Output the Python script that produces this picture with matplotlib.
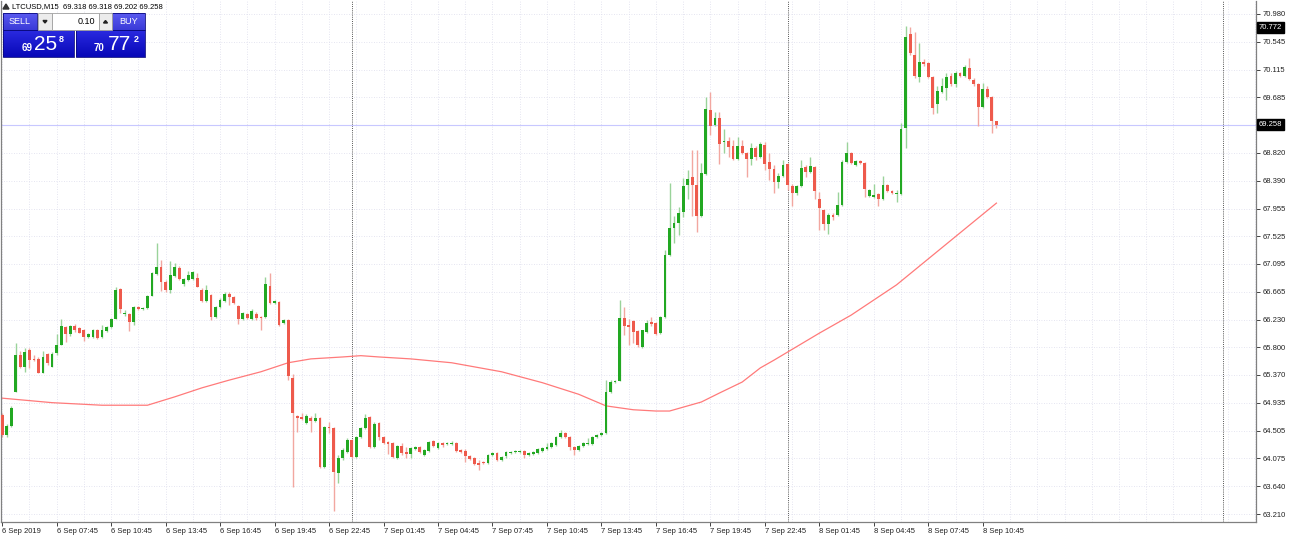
import numpy as np
import matplotlib
matplotlib.use('Agg')
import matplotlib.pyplot as plt
from matplotlib.patches import Rectangle, Polygon
from matplotlib.colors import LinearSegmentedColormap

plt.rcParams['font.family'] = ['Liberation Sans', 'DejaVu Sans']

# LTCUSD M15, first bar 6 Sep 2019 04:45
opens = [64.75, 64.44, 64.58, 65.11, 65.68, 65.49, 65.76, 65.62, 65.62, 65.40,
         65.70, 65.49, 65.71, 65.84, 66.12, 66.01, 66.13, 66.10, 66.07, 65.96,
         65.96, 66.07, 65.96, 66.05, 66.12, 66.24, 66.71, 66.32, 66.32, 66.19,
         66.43, 66.40, 66.41, 66.60, 66.94, 67.05, 66.82, 66.69, 66.91, 67.03,
         66.79, 66.85, 66.86, 66.88, 66.69, 66.52, 66.61, 66.27, 66.43, 66.52,
         66.63, 66.58, 66.44, 66.24, 66.32, 66.24, 66.32, 66.27, 66.27, 66.75,
         66.49, 66.50, 66.18, 66.23, 65.32, 64.73, 64.72, 64.62, 64.70, 64.66,
         64.70, 63.94, 64.56, 64.55, 63.85, 64.08, 64.18, 64.36, 64.10, 64.41,
         64.55, 64.72, 64.25, 64.62, 64.41, 64.33, 64.31, 64.08, 64.27, 64.18,
         64.14, 64.22, 64.25, 64.13, 64.19, 64.35, 64.24, 64.31, 64.30, 64.30,
         64.31, 64.21, 64.19, 64.11, 64.08, 64.00, 64.02, 64.00, 64.13, 64.16,
         64.05, 64.11, 64.16, 64.17, 64.17, 64.19, 64.13, 64.14, 64.16, 64.19,
         64.22, 64.25, 64.28, 64.41, 64.47, 64.41, 64.25, 64.21, 64.27, 64.30,
         64.30, 64.41, 64.44, 64.47, 65.11, 65.26, 65.28, 66.26, 66.15, 66.21,
         66.05, 65.81, 66.04, 66.19, 66.18, 66.02, 66.27, 67.24, 67.65, 67.73,
         67.90, 68.32, 68.45, 68.32, 67.84, 68.49, 69.49, 69.26, 69.36, 68.99,
         69.01, 68.93, 68.73, 68.93, 68.82, 68.73, 68.90, 68.76, 68.95, 68.68,
         68.57, 68.37, 68.46, 68.65, 68.31, 68.20, 68.31, 68.60, 68.53, 68.60,
         68.11, 67.93, 67.72, 67.86, 67.86, 68.01, 68.68, 68.82, 68.63, 68.70,
         68.67, 68.15, 68.14, 68.18, 68.11, 68.32, 68.23, 68.18, 68.18, 69.21,
         70.67, 70.34, 70.00, 70.23, 70.22, 70.00, 69.58, 69.77, 69.83, 70.02,
         69.89, 70.06, 70.02, 70.14, 69.95, 69.89, 69.53, 69.81, 69.69, 69.318]
highs = [64.78, 64.61, 64.89, 65.87, 65.74, 65.79, 65.79, 65.68, 65.65, 65.74,
         65.71, 65.73, 66.01, 66.24, 66.13, 66.15, 66.16, 66.12, 66.09, 66.02,
         66.09, 66.09, 66.15, 66.13, 66.26, 66.74, 66.72, 66.38, 66.34, 66.44,
         66.44, 66.43, 66.61, 66.97, 67.42, 67.16, 66.85, 67.14, 67.11, 67.06,
         66.88, 66.99, 66.99, 66.96, 66.72, 66.77, 66.63, 66.44, 66.57, 66.66,
         66.66, 66.60, 66.46, 66.35, 66.34, 66.40, 66.35, 66.29, 66.89, 66.96,
         66.54, 66.52, 66.24, 66.24, 65.39, 64.75, 64.78, 64.76, 64.73, 64.78,
         64.72, 64.58, 64.64, 64.56, 64.13, 64.24, 64.39, 64.38, 64.42, 64.56,
         64.76, 64.73, 64.64, 64.64, 64.42, 64.35, 64.33, 64.28, 64.31, 64.25,
         64.25, 64.27, 64.27, 64.22, 64.35, 64.36, 64.33, 64.33, 64.33, 64.35,
         64.33, 64.22, 64.22, 64.13, 64.10, 64.05, 64.03, 64.14, 64.17, 64.17,
         64.11, 64.19, 64.19, 64.21, 64.21, 64.21, 64.17, 64.19, 64.24, 64.25,
         64.31, 64.33, 64.42, 64.52, 64.49, 64.42, 64.27, 64.28, 64.33, 64.39,
         64.42, 64.45, 64.49, 65.29, 65.29, 65.29, 66.54, 66.43, 66.24, 66.22,
         66.07, 66.07, 66.23, 66.27, 66.19, 66.29, 67.31, 68.35, 67.84, 67.98,
         68.43, 68.56, 68.87, 68.87, 68.67, 69.69, 69.77, 69.46, 69.46, 69.19,
         69.07, 69.02, 69.07, 69.02, 68.84, 68.98, 68.93, 68.99, 68.99, 68.82,
         68.63, 68.51, 68.71, 68.66, 68.34, 68.32, 68.71, 68.63, 68.76, 68.62,
         68.21, 67.95, 67.89, 67.89, 68.21, 68.71, 68.99, 68.84, 68.71, 68.71,
         68.68, 68.26, 68.34, 68.20, 68.46, 68.34, 68.25, 68.25, 69.29, 70.79,
         70.78, 70.70, 70.53, 70.28, 70.23, 70.02, 69.86, 69.99, 70.06, 70.06,
         70.09, 70.08, 70.19, 70.30, 69.99, 69.91, 69.91, 69.86, 69.71, 69.318]
lows = [64.41, 64.41, 64.56, 65.11, 65.48, 65.42, 65.48, 65.59, 65.40, 65.40,
        65.53, 65.49, 65.68, 65.84, 65.88, 65.98, 66.04, 66.02, 65.90, 65.95,
        65.95, 65.93, 65.95, 66.04, 66.10, 66.24, 66.34, 66.29, 66.05, 66.15,
        66.38, 66.38, 66.40, 66.60, 66.93, 66.68, 66.66, 66.65, 66.89, 66.85,
        66.75, 66.83, 66.85, 66.74, 66.50, 66.50, 66.22, 66.26, 66.41, 66.50,
        66.46, 66.47, 66.16, 66.22, 66.24, 66.22, 66.22, 66.07, 66.26, 66.47,
        66.47, 66.13, 66.16, 65.29, 63.63, 64.49, 64.67, 64.61, 64.49, 64.64,
        63.93, 63.93, 64.47, 63.26, 63.69, 64.05, 64.16, 64.08, 64.08, 64.39,
        64.53, 64.23, 64.23, 64.36, 64.30, 64.14, 64.08, 64.07, 64.13, 64.08,
        64.08, 64.21, 64.16, 64.11, 64.17, 64.25, 64.22, 64.25, 64.28, 64.28,
        64.17, 64.16, 64.02, 64.05, 63.97, 63.89, 63.99, 63.99, 64.11, 64.03,
        64.03, 64.08, 64.14, 64.16, 64.16, 64.08, 64.11, 64.13, 64.14, 64.17,
        64.21, 64.24, 64.27, 64.39, 64.39, 64.21, 64.13, 64.19, 64.25, 64.28,
        64.28, 64.39, 64.42, 64.45, 65.09, 65.24, 65.28, 65.99, 65.84, 65.87,
        65.81, 65.79, 66.02, 66.13, 65.99, 66.01, 66.26, 67.22, 67.42, 67.55,
        67.83, 68.11, 67.84, 67.59, 67.83, 68.48, 69.10, 69.24, 68.65, 68.82,
        68.76, 68.71, 68.71, 68.80, 68.45, 68.63, 68.71, 68.74, 68.56, 68.40,
        68.20, 68.28, 68.45, 68.25, 68.00, 68.17, 68.29, 68.45, 68.51, 68.11,
        67.62, 67.62, 67.56, 67.78, 67.84, 68.00, 68.66, 68.65, 68.62, 68.65,
        68.14, 68.14, 68.12, 68.00, 68.09, 68.21, 68.18, 68.06, 68.17, 68.90,
        70.34, 69.99, 69.92, 70.17, 69.99, 69.43, 69.44, 69.75, 69.64, 69.86,
        69.85, 70.00, 70.00, 69.95, 69.86, 69.24, 69.52, 69.68, 69.13, 69.202]
closes = [64.44, 64.58, 64.86, 65.68, 65.49, 65.73, 65.60, 65.60, 65.40, 65.65,
          65.56, 65.70, 65.84, 66.13, 66.01, 66.13, 66.07, 66.02, 65.96, 66.01,
          66.07, 65.95, 66.07, 66.12, 66.24, 66.69, 66.40, 66.34, 66.19, 66.43,
          66.40, 66.41, 66.60, 66.96, 67.05, 66.82, 66.69, 66.92, 67.05, 66.86,
          66.86, 66.92, 66.97, 66.74, 66.52, 66.69, 66.27, 66.43, 66.54, 66.63,
          66.58, 66.49, 66.24, 66.34, 66.26, 66.37, 66.26, 66.26, 66.78, 66.49,
          66.52, 66.15, 66.23, 65.36, 64.78, 64.70, 64.69, 64.73, 64.66, 64.70,
          63.94, 64.56, 64.55, 63.86, 64.08, 64.21, 64.36, 64.10, 64.41, 64.55,
          64.70, 64.25, 64.61, 64.41, 64.31, 64.30, 64.10, 64.27, 64.16, 64.14,
          64.24, 64.25, 64.18, 64.21, 64.33, 64.27, 64.31, 64.28, 64.31, 64.31,
          64.19, 64.18, 64.11, 64.06, 63.99, 63.97, 64.00, 64.13, 64.16, 64.05,
          64.10, 64.17, 64.17, 64.19, 64.19, 64.13, 64.16, 64.17, 64.22, 64.24,
          64.25, 64.31, 64.41, 64.47, 64.41, 64.25, 64.21, 64.27, 64.31, 64.31,
          64.41, 64.44, 64.47, 65.11, 65.26, 65.28, 66.26, 66.13, 66.12, 66.04,
          65.84, 66.07, 66.18, 66.16, 66.01, 66.27, 67.24, 67.65, 67.73, 67.89,
          68.31, 68.42, 68.32, 67.84, 68.51, 69.50, 69.24, 69.36, 68.96, 69.01,
          68.91, 68.73, 68.93, 68.82, 68.73, 68.90, 68.76, 68.96, 68.65, 68.57,
          68.37, 68.46, 68.63, 68.32, 68.20, 68.31, 68.59, 68.53, 68.62, 68.23,
          67.97, 67.72, 67.86, 67.83, 68.01, 68.68, 68.82, 68.67, 68.70, 68.67,
          68.26, 68.25, 68.17, 68.11, 68.32, 68.23, 68.20, 68.20, 69.19, 70.62,
          70.37, 70.02, 70.23, 70.20, 70.00, 69.52, 69.78, 69.86, 70.00, 69.89,
          70.06, 70.02, 70.16, 69.97, 69.89, 69.53, 69.81, 69.69, 69.32, 69.258]

# moving average, read at points along the drawn line (bar index, price)
ma_bar = [0, 11, 22, 32, 38, 44, 50, 57, 63, 68, 75, 79, 83, 90, 99, 110, 119, 127,
          130, 133, 139, 144, 147, 154, 158, 163, 167, 170, 180, 187, 197, 219]
ma_val = [65.01, 64.94, 64.90, 64.90, 65.03, 65.17, 65.29, 65.42, 65.56, 65.62,
          65.65, 65.67, 65.65, 65.62, 65.56, 65.42, 65.25, 65.07, 64.98, 64.89,
          64.83, 64.81, 64.81, 64.95, 65.09, 65.26, 65.48, 65.60, 66.02, 66.30,
          66.77, 68.04]

price_ticks = [63.210, 63.640, 64.075, 64.505, 64.935, 65.370, 65.800, 66.230,
               66.665, 67.095, 67.525, 67.955, 68.390, 68.820, 69.250, 69.685,
               70.115, 70.545, 70.980]
time_tick_bars = [0, 12, 24, 36, 48, 60, 72, 84, 96, 108, 120, 132, 144, 156, 168, 180, 192, 204, 216]
time_labels = ['6 Sep 2019', '6 Sep 07:45', '6 Sep 10:45', '6 Sep 13:45', '6 Sep 16:45',
               '6 Sep 19:45', '6 Sep 22:45', '7 Sep 01:45', '7 Sep 04:45', '7 Sep 07:45',
               '7 Sep 10:45', '7 Sep 13:45', '7 Sep 16:45', '7 Sep 19:45', '7 Sep 22:45',
               '8 Sep 01:45', '8 Sep 04:45', '8 Sep 07:45', '8 Sep 10:45']
day_breaks = [77, 173, 269]
bid = 69.258
marker_price = 70.772

o = np.array(opens); h = np.array(highs); l = np.array(lows); c = np.array(closes)
x = np.arange(len(o))
up = c >= o

fig = plt.figure(figsize=(12.9, 5.38), dpi=100)
ax = fig.add_axes([0.0005, 16 / 538, 1255 / 1290, 521 / 538])

# grid
for xv in range(0, 277, 6):
    ax.axvline(xv, color='#dcdcec', lw=0.6, ls=(0, (1, 2)), zorder=0)
for yv in price_ticks:
    ax.axhline(yv, color='#dcdcec', lw=0.6, ls=(0, (1, 2)), zorder=0)
for d in day_breaks:
    ax.axvline(d, color='#555555', lw=0.7, ls=(0, (1, 1.2)), zorder=1)

ax.axhline(bid, color='#c8c8ff', lw=0.8, zorder=1)

wick_col = np.where(up, '#9ad39a', '#f2a7a0')
ax.vlines(x, l, h, colors=wick_col, lw=1.0, zorder=2)
body_bottom = np.minimum(o, c)
body_h = np.maximum(np.abs(c - o), 0.015)
ax.bar(x, body_h, bottom=body_bottom, width=0.62,
       color=np.where(up, '#22a822', '#ee5a4c'), lw=0, zorder=3)

ax.plot(ma_bar, ma_val, color='#ff7a7a', lw=0.9, zorder=2)

ax.set_xlim(-0.33, 276.1)
ax.set_ylim(63.086, 71.18)

ax.yaxis.tick_right()
ax.set_yticks(price_ticks)
ax.set_yticklabels(['' if abs(p - 69.25) < 0.001 else f'{p:.3f}' for p in price_ticks])
ax.set_xticks(time_tick_bars)
ax.set_xticklabels(time_labels, ha='left')
ax.tick_params(axis='y', length=3, width=0.6, pad=2, labelsize=5.5, colors='#222222')
ax.tick_params(axis='x', length=3, width=0.6, pad=1.5, labelsize=5.5, colors='#222222')
for s in ax.spines.values():
    s.set_color('#808080')
    s.set_linewidth(0.9)
ax.spines['top'].set_visible(False)

# price boxes on the axis
for p in [bid, marker_price]:
    ax.text(1.0025, p, f'{p:.3f}', transform=ax.get_yaxis_transform(), fontsize=5.5,
            color='white', va='center', ha='left',
            bbox=dict(boxstyle='square,pad=0.25', fc='black', ec='black'))

# overlay in pixel coordinates for the header and trade panel
ov = fig.add_axes([0, 0, 1, 1], zorder=5)
ov.axis('off')
ov.patch.set_alpha(0)

ov.add_patch(Polygon([[3, 9], [9, 9], [6, 4]], closed=True, color='#333333'))
ov.text(12, 6.5, 'LTCUSD,M15  69.318 69.318 69.202 69.258', fontsize=5.5,
        color='black', va='center', ha='left')

blue_big = LinearSegmentedColormap.from_list('bb', ['#2a2ae0', '#0808b8'])
blue_small = LinearSegmentedColormap.from_list('bs', ['#5a5af0', '#3a3ad8'])
grad = np.linspace(0, 1, 40).reshape(-1, 1)
for (x0, x1, y0, y1, cm) in [(3, 37, 13, 30, blue_small), (112, 145, 13, 30, blue_small),
                             (3, 74, 30, 57, blue_big), (76, 145, 30, 57, blue_big)]:
    ov.imshow(grad, cmap=cm, extent=(x0, x1, y1, y0), aspect='auto', zorder=1)
    ov.add_patch(Rectangle((x0, y0), x1 - x0, y1 - y0, fill=False, ec='#0a0a80', lw=0.6, zorder=2))
ov.add_patch(Rectangle((38, 13), 14, 17, fc='#ececec', ec='#a0a0a0', lw=0.6, zorder=2))
ov.add_patch(Rectangle((52, 13), 47, 17, fc='white', ec='#a0a0a0', lw=0.6, zorder=2))
ov.add_patch(Rectangle((99, 13), 13, 17, fc='#ececec', ec='#a0a0a0', lw=0.6, zorder=2))
ov.add_patch(Polygon([[43, 20.5], [47, 20.5], [45, 23]], closed=True, color='#222222', zorder=3))
ov.add_patch(Polygon([[103.5, 23], [107.5, 23], [105.5, 20.5]], closed=True, color='#222222', zorder=3))
ov.set_xlim(0, 1290)
ov.set_ylim(538, 0)

ov.text(20, 21.5, 'SELL', fontsize=6.5, color='white', ha='center', va='center', zorder=4)
ov.text(128.5, 21.5, 'BUY', fontsize=6.5, color='white', ha='center', va='center', zorder=4)
ov.text(95, 21.5, '0.10', fontsize=6.5, color='black', ha='right', va='center', zorder=4)

ov.text(27, 48, '69', fontsize=7, color='white', weight='bold', ha='center', va='center', zorder=4)
ov.text(46, 44.5, '25', fontsize=15, color='white', ha='center', va='center', zorder=4)
ov.text(61.5, 39, '8', fontsize=6.5, color='white', weight='bold', ha='center', va='center', zorder=4)
ov.text(98.5, 48, '70', fontsize=7, color='white', weight='bold', ha='center', va='center', zorder=4)
ov.text(119.5, 44.5, '77', fontsize=15, color='white', ha='center', va='center', zorder=4)
ov.text(136.5, 39, '2', fontsize=6.5, color='white', weight='bold', ha='center', va='center', zorder=4)

fig.savefig('out.png', dpi=100, facecolor='white')
